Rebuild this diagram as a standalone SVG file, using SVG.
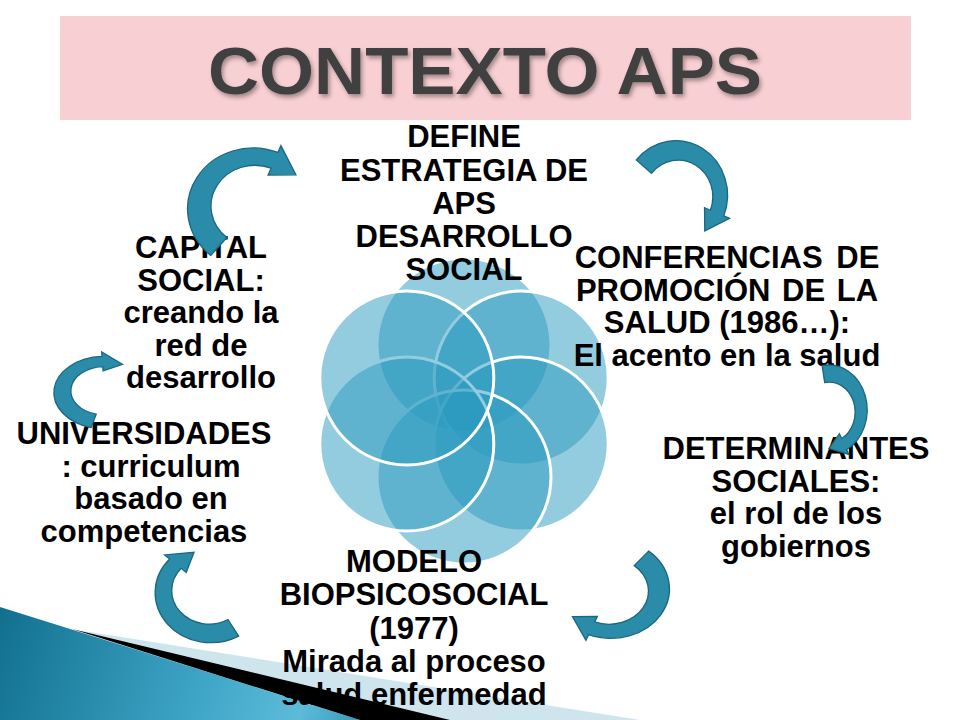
<svg xmlns="http://www.w3.org/2000/svg" width="960" height="720" viewBox="0 0 960 720">
<defs>
<style>
.t{font-family:"Liberation Sans",Arial,sans-serif;font-weight:bold;font-size:31px;fill:#000;text-anchor:middle}
.c{fill:#2a9ac0;fill-opacity:0.5;stroke:#ffffff;stroke-width:3}
.arr{fill:#2a8ca9;stroke:#1b6780;stroke-width:1.3}
</style>
<path id="ca" vector-effect="non-scaling-stroke" d="M59,0 A57.5,57.5 0 0 1 -53.26,17.30 L-59.92,19.47 L-47.27,-8.34 L-31.39,10.20 L-38.04,12.36 A38.5,38.5 0 0 0 37,0 Z"/>
<linearGradient id="tg" x1="0" y1="610" x2="380" y2="720" gradientUnits="userSpaceOnUse">
<stop offset="0" stop-color="#12708f"/>
<stop offset="0.55" stop-color="#3fa6c8"/>
<stop offset="0.8" stop-color="#5dbbd9"/>
<stop offset="1" stop-color="#2b90b2"/>
</linearGradient>
<filter id="sh" x="-5%" y="-20%" width="110%" height="140%"><feDropShadow dx="2" dy="3" stdDeviation="2" flood-color="#000" flood-opacity="0.35"/></filter>
</defs>
<rect width="960" height="720" fill="#ffffff"/>
<g id="decor">
<polygon points="90,632 640,720 420,720 80,631" fill="#cfe5ee"/>
<polygon points="0,607 360,720 0,720" fill="url(#tg)"/>
<polygon points="72,629 450,720 360,720" fill="#000"/>
</g>
<g id="title">
<rect x="60" y="16" width="851" height="104" fill="#f8cfd3"/>
<text x="485" y="93.5" font-family="'Liberation Sans',Arial,sans-serif" font-weight="bold" font-size="67" fill="#404040" text-anchor="middle" textLength="554" lengthAdjust="spacingAndGlyphs" filter="url(#sh)">CONTEXTO APS</text>
</g>
<g id="venn">
<circle class="c" cx="464" cy="345" r="87"/>
<circle class="c" cx="521.2" cy="378" r="87"/>
<circle class="c" cx="521.2" cy="444" r="87"/>
<circle class="c" cx="464" cy="477" r="87"/>
<circle class="c" cx="406.8" cy="444" r="87"/>
<circle class="c" cx="406.8" cy="378" r="87"/>
</g>
<g id="node-define">
<text class="t" x="464" y="147">DEFINE</text>
<text class="t" x="464" y="180.5">ESTRATEGIA DE</text>
<text class="t" x="464" y="213.5">APS</text>
<text class="t" x="464" y="247">DESARROLLO</text>
<text class="t" x="464" y="280">SOCIAL</text>
</g>
<g id="node-conferencias">
<text class="t" x="727" y="268" word-spacing="5">CONFERENCIAS DE</text>
<text class="t" x="727" y="300.5" word-spacing="3">PROMOCIÓN DE LA</text>
<text class="t" x="727" y="333">SALUD (1986…):</text>
<text class="t" x="727" y="365.5">El acento en la salud</text>
</g>
<g id="node-determinantes">
<text class="t" x="796" y="459">DETERMINANTES</text>
<text class="t" x="796" y="491.5">SOCIALES:</text>
<text class="t" x="796" y="524">el rol de los</text>
<text class="t" x="796" y="556.5">gobiernos</text>
</g>
<g id="node-modelo">
<text class="t" x="414" y="572">MODELO</text>
<text class="t" x="414" y="605">BIOPSICOSOCIAL</text>
<text class="t" x="414" y="638.5">(1977)</text>
<text class="t" x="414" y="671.5">Mirada al proceso</text>
<text class="t" x="414" y="705">salud enfermedad</text>
</g>
<g id="node-universidades">
<text class="t" x="144" y="444">UNIVERSIDADES</text>
<text class="t" x="151" y="476.5">: curriculum</text>
<text class="t" x="151" y="509">basado en</text>
<text class="t" x="144" y="541.5">competencias</text>
</g>
<g id="node-capital">
<text class="t" x="201" y="258">CAPITAL</text>
<text class="t" x="201" y="290.5">SOCIAL:</text>
<text class="t" x="201" y="323">creando la</text>
<text class="t" x="201" y="355.5">red de</text>
<text class="t" x="201" y="388">desarrollo</text>
</g>
<g id="connectors">
<use href="#ca" class="arr" transform="translate(254,207.5) scale(1.14,1.06) rotate(130)"/>
<use href="#ca" class="arr" transform="translate(677,196) scale(0.9,0.95) rotate(220)"/>
<use href="#ca" class="arr" transform="translate(829,411) scale(0.67,0.78) rotate(260)"/>
<use href="#ca" class="arr" transform="translate(610,590) scale(1.02,0.86) rotate(310)"/>
<use href="#ca" class="arr" transform="translate(210,591.6) scale(0.97,0.87) rotate(60)"/>
<use href="#ca" class="arr" transform="translate(104.6,391.7) scale(0.88,0.63) rotate(105)"/>
</g>
</svg>
